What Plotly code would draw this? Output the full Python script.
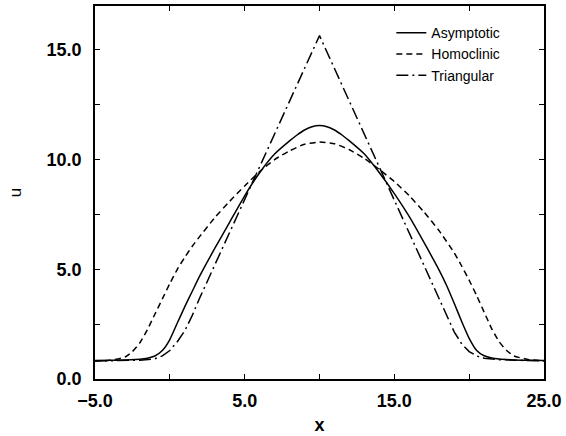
import plotly.graph_objects as go

# ---- data ----
x_asym = [-5, -4, -3, -2, -1.5, -1, -0.5, 0, 0.5, 1, 1.5, 2, 3, 4, 5, 6, 7, 8, 8.5, 9, 9.5, 10,
          10.5, 11, 11.5, 12, 13, 14, 15, 16, 17, 18, 18.5, 19, 19.5, 20, 20.5, 21, 21.5, 22, 23, 24, 25]
u_asym = [0.84, 0.85, 0.87, 0.9, 0.95, 1.05, 1.3, 1.8, 2.55, 3.3, 4.0, 4.7, 5.95, 7.15, 8.35, 9.4, 10.25, 10.85, 11.12, 11.35, 11.5, 11.55,
          11.5, 11.35, 11.12, 10.85, 10.25, 9.4, 8.45, 7.4, 6.2, 4.95, 4.25, 3.45, 2.62, 1.85, 1.3, 1.06, 0.96, 0.91, 0.87, 0.85, 0.84]

x_homo = [-5, -4, -3, -2.5, -2, -1.5, -1, -0.5, 0, 0.5, 1, 1.5, 2, 3, 4, 5, 6, 7, 8, 9, 10,
          11, 12, 13, 14, 15, 16, 17, 18, 19, 19.5, 20, 20.5, 21, 21.5, 22, 22.5, 23, 24, 25]
u_homo = [0.82, 0.85, 1.0, 1.25, 1.65, 2.25, 2.95, 3.65, 4.35, 5.0, 5.55, 6.05, 6.5, 7.35, 8.1, 8.8, 9.45, 10.0, 10.4, 10.7, 10.8,
          10.72, 10.45, 10.05, 9.55, 9.0, 8.35, 7.6, 6.75, 5.75, 5.15, 4.5, 3.8, 3.05, 2.3, 1.7, 1.3, 1.05, 0.88, 0.83]

x_tri = [-5, -3, -2, -1, -0.5, 0, 0.5, 1, 1.5, 2, 3, 4, 5, 6, 7, 8, 9, 10,
         11, 12, 13, 14, 15, 16, 17, 18, 18.5, 19, 19.5, 20, 20.5, 21, 22, 23, 25]
u_tri = [0.82, 0.84, 0.86, 0.92, 1.05, 1.3, 1.7, 2.2, 2.9, 3.7, 5.2, 6.7, 8.2, 9.7, 11.15, 12.65, 14.15, 15.65,
         14.15, 12.65, 11.15, 9.6, 8.1, 6.6, 5.1, 3.6, 2.85, 2.15, 1.6, 1.25, 1.05, 0.95, 0.88, 0.85, 0.82]

x_tickvals = [-5, 0, 5, 10, 15, 20, 25]
x_ticktext = ["\u22125.0", "", "5.0", "", "15.0", "", "25.0"]
y_tickvals = [0, 2.5, 5, 7.5, 10, 12.5, 15]
y_ticktext = ["0.0", "", "5.0", "", "10.0", "", "15.0"]

FONT = "Liberation Sans, Arial, Helvetica, sans-serif"

fig = go.Figure()
fig.add_trace(go.Scatter(x=x_asym, y=u_asym, mode="lines", name="Asymptotic",
                         line=dict(color="black", width=1.5, shape="spline", smoothing=0.5)))
fig.add_trace(go.Scatter(x=x_homo, y=u_homo, mode="lines", name="Homoclinic",
                         line=dict(color="black", width=1.5, dash="6px,4px", shape="spline", smoothing=0.5)))
fig.add_trace(go.Scatter(x=x_tri, y=u_tri, mode="lines", name="Triangular",
                         line=dict(color="black", width=1.5, dash="12px,4px,2px,4px")))

axis_common = dict(
    showgrid=False, zeroline=False, showline=True, linecolor="black", linewidth=1.5,
    ticks="inside", ticklen=5, tickwidth=1, tickcolor="black", mirror="ticks",
    tickfont=dict(family=FONT, size=18, color="black", weight="bold"),
)

fig.update_layout(
    width=566, height=436,
    margin=dict(l=95, r=20, t=4, b=57),
    paper_bgcolor="white", plot_bgcolor="white",
    font=dict(family=FONT, color="black"),
    xaxis=dict(range=[-5, 25], tickmode="array", tickvals=x_tickvals, ticktext=x_ticktext,
               title=dict(text="<b>x</b>", font=dict(family=FONT, size=18), standoff=8),
               ticklabelstandoff=5, **axis_common),
    yaxis=dict(range=[0, 17], tickmode="array", tickvals=y_tickvals, ticktext=y_ticktext,
               title=dict(text="u", font=dict(family=FONT, size=17), standoff=21),
               ticklabelstandoff=8, **axis_common),
    legend=dict(x=0.66, y=0.97, xanchor="left", yanchor="top", bgcolor="rgba(0,0,0,0)",
                font=dict(family=FONT, size=14, color="black"), tracegroupgap=0),
    showlegend=True,
)

fig.write_html("out.html", config={"displayModeBar": False},
               post_script="document.body.style.margin='0';document.body.style.padding='0';")
